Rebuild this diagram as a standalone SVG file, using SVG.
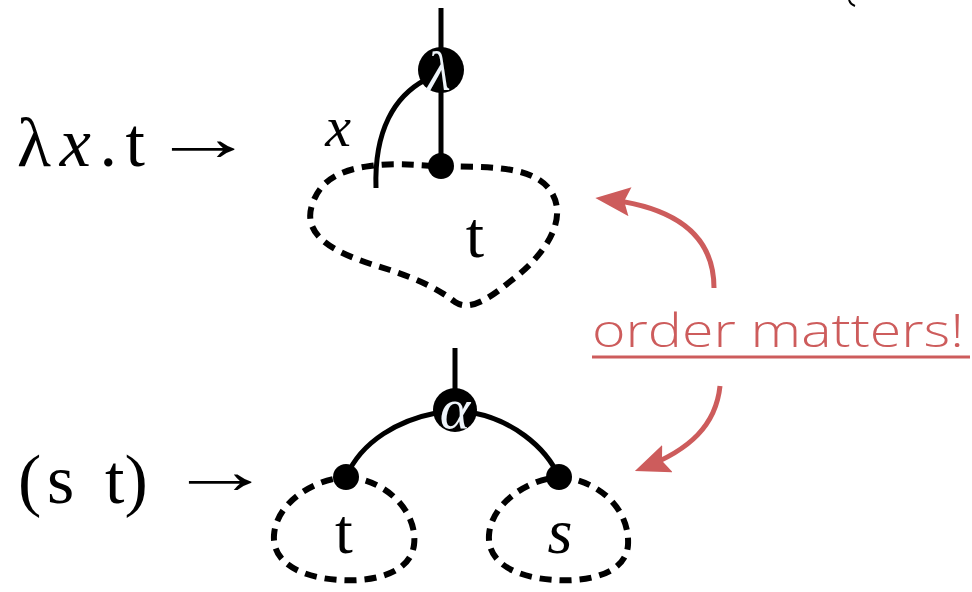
<svg xmlns="http://www.w3.org/2000/svg" width="972" height="592" viewBox="0 0 972 592">
  <defs>
    <marker id="redhead" viewBox="0 0 12 10" refX="9" refY="5" markerWidth="7" markerHeight="5.8" orient="auto" markerUnits="strokeWidth">
      <path d="M0,0 L12,5 L0,10 L2,5 Z" fill="#cd5c5c"/>
    </marker>
  </defs>
  <style>
    .math { font-family: "Liberation Serif", "DejaVu Serif", serif; fill: #000; }
    .ital { font-style: italic; }
    .wire { fill: none; stroke: #000; stroke-width: 5; }
    .blob { fill: none; stroke: #000; stroke-width: 6; stroke-dasharray: 12 8; }
    .dot { fill: #000; }
    .sym { font-family: "Liberation Serif", "DejaVu Serif", serif; font-style: italic; fill: #eef4fa; }
    .red { fill: none; stroke: #cd5c5c; stroke-width: 5; }
    .note { font-family: "Open Sans", "Noto Sans", sans-serif; font-weight: 300; fill: #cd5c5c; }
  </style>

  <rect width="972" height="592" fill="#fff"/>

  <!-- left-hand labels -->
  <g id="label-abs">
    <text class="math" x="17" y="166" font-size="70" textLength="128" lengthAdjust="spacing">λ<tspan class="ital">x</tspan>.t</text>
    <text class="math" font-size="66" transform="translate(150,160) scale(1.6,1)">→</text>
  </g>
  <g id="label-app">
    <text class="math" x="18" y="503" font-size="70">(</text>
    <text class="math" x="47" y="503" font-size="70">s</text>
    <text class="math" x="105" y="503" font-size="70">t)</text>
    <text class="math" font-size="66" transform="translate(167,493) scale(1.6,1)">→</text>
  </g>

  <!-- connectors -->
  <g id="connectors">
    <path class="wire" d="M441,8 L441,166"/>
    <path class="wire" d="M376,188 C 374,130 395,96 425,80"/>
    <path class="wire" d="M455,348 L455,392"/>
    <path class="wire" d="M346,477 C 362,440 400,420 436,413"/>
    <path class="wire" d="M474,413 C 510,420 545,445 559,477"/>
    <path class="red" d="M714,288 C 714,232 670,206 604,199" marker-end="url(#redhead)"/>
    <path class="red" d="M720,386 C 716,425 690,450 643,468" marker-end="url(#redhead)"/>
    <path d="M849,0 C 850,3 852,5 855,6" fill="none" stroke="#000" stroke-width="2"/>
  </g>

  <!-- abstraction -->
  <g id="lambda-body">
    <path class="blob" d="M441,166 C 480,168 530,163 550,190 C 570,218 545,255 512,280 C 490,298 470,312 455,302 C 440,290 420,280 390,270 C 350,258 300,242 312,205 C 320,180 340,170 370,166 C 400,162 420,166 441,166 Z"/>
    <text class="math" x="475" y="257" font-size="66" text-anchor="middle">t</text>
  </g>
  <g id="lambda-node">
    <circle cx="441" cy="70" r="23" class="dot"/>
    <text class="sym" x="439" y="90" font-size="54" text-anchor="middle" font-style="normal">λ</text>
  </g>
  <g id="lambda-port">
    <circle cx="441" cy="166" r="13" class="dot"/>
  </g>
  <text class="math ital" x="338" y="146" font-size="58" text-anchor="middle">x</text>

  <!-- application -->
  <g id="app-node">
    <circle cx="455" cy="410" r="22" class="dot"/>
    <text class="sym" x="455" y="428" font-size="58" text-anchor="middle">α</text>
  </g>
  <g id="app-left">
    <path class="blob" d="M346,477 C 390,480 418,515 414,545 C 410,575 370,582 340,580 C 305,578 272,565 274,535 C 276,505 310,480 346,477 Z"/>
    <circle cx="346" cy="477" r="13" class="dot"/>
    <text class="math" x="344" y="553" font-size="64" text-anchor="middle">t</text>
  </g>
  <g id="app-right">
    <path class="blob" d="M559,477 C 600,480 630,510 628,545 C 626,575 585,582 555,580 C 520,578 487,565 489,535 C 491,505 525,480 559,477 Z"/>
    <circle cx="559" cy="477" r="13" class="dot"/>
    <text class="math ital" x="560" y="553" font-size="64" text-anchor="middle">s</text>
  </g>

  <!-- annotation -->
  <g id="note">
    <text class="note" x="592" y="347" font-size="46" textLength="372" lengthAdjust="spacingAndGlyphs">order matters!</text>
    <line x1="592" y1="357" x2="970" y2="357" stroke="#cd5c5c" stroke-width="3"/>
  </g>
</svg>
